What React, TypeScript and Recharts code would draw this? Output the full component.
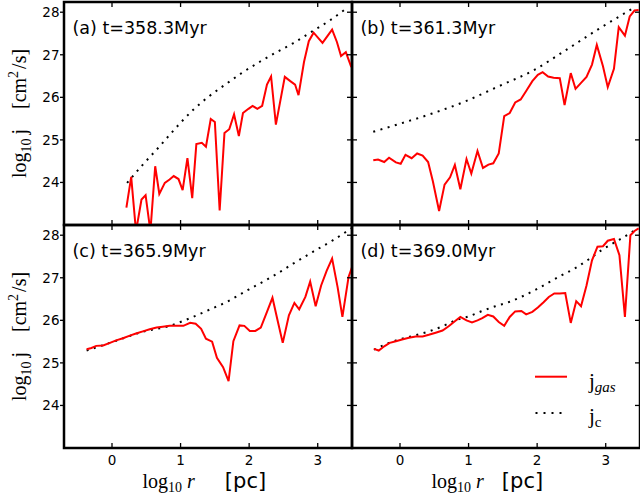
// @ts-nocheck
import { LineChart, Line, XAxis, YAxis, Legend } from 'recharts';

const xTicks = [0, 1, 2, 3];
const yTicks = [24, 25, 26, 27, 28];
const xDomain = [-0.7, 3.5];
const yDomain = [23, 28.24];

// (a) t=358.3Myr
const rGasA = [0.21, 0.28, 0.35, 0.43, 0.49, 0.56, 0.63, 0.69, 0.77, 0.84, 0.9, 0.97, 1.03, 1.1, 1.17, 1.23, 1.31, 1.37, 1.44, 1.5, 1.57, 1.64, 1.71, 1.78, 1.85, 1.91, 1.99, 2.05, 2.12, 2.19, 2.26, 2.32, 2.39, 2.52, 2.6, 2.67, 2.72, 2.8, 2.87, 2.94, 3.07, 3.21, 3.28, 3.34, 3.41, 3.49];
const jGasA = [23.41, 24.13, 22.85, 23.6, 23.7, 22.85, 24.38, 23.73, 23.99, 24.07, 24.15, 24.08, 23.82, 24.57, 23.63, 24.9, 24.93, 24.84, 25.49, 25.42, 23.34, 25.16, 25.25, 25.6, 25.09, 25.63, 25.73, 25.8, 25.73, 25.8, 26.3, 26.49, 25.36, 26.48, 26.38, 26.3, 26.05, 26.83, 27.32, 27.52, 27.28, 27.59, 27.3, 26.97, 27.06, 26.71];
const rJcA = [0.22, 0.45, 0.69, 0.93, 1.18, 1.42, 1.67, 1.91, 2.15, 2.4, 2.64, 2.94, 3.17, 3.41];
const jcA = [23.99, 24.42, 24.84, 25.28, 25.7, 26.03, 26.32, 26.59, 26.83, 27.06, 27.27, 27.57, 27.8, 28.08];

// (b) t=361.3Myr
const rGasB = [-0.39, -0.32, -0.23, -0.16, -0.06, 0.01, 0.08, 0.17, 0.25, 0.33, 0.41, 0.48, 0.57, 0.65, 0.73, 0.8, 0.88, 0.97, 1.04, 1.13, 1.21, 1.29, 1.36, 1.44, 1.52, 1.6, 1.68, 1.76, 1.84, 1.93, 2.01, 2.08, 2.16, 2.24, 2.33, 2.4, 2.49, 2.56, 2.64, 2.72, 2.8, 2.87, 2.96, 3.03, 3.12, 3.19, 3.28, 3.35, 3.42, 3.48];
const jGasB = [24.52, 24.54, 24.48, 24.58, 24.47, 24.44, 24.65, 24.57, 24.68, 24.63, 24.48, 24.02, 23.33, 23.95, 24.12, 24.41, 23.84, 24.55, 24.21, 24.74, 24.34, 24.42, 24.45, 24.68, 25.56, 25.63, 25.88, 25.95, 26.15, 26.38, 26.53, 26.59, 26.49, 26.46, 26.45, 25.82, 26.57, 26.2, 26.34, 26.48, 26.77, 27.23, 26.73, 26.24, 26.67, 27.65, 27.45, 27.9, 28.04, 28.05];
const rJcB = [-0.39, -0.02, 0.47, 0.96, 1.44, 1.93, 2.41, 2.9, 3.43];
const jcB = [25.19, 25.37, 25.62, 25.91, 26.26, 26.62, 27.1, 27.61, 28.12];

// (c) t=365.9Myr
const rGasC = [-0.37, -0.3, -0.23, -0.13, -0.03, 0.06, 0.16, 0.26, 0.35, 0.45, 0.55, 0.65, 0.74, 0.84, 0.94, 1.04, 1.14, 1.22, 1.3, 1.37, 1.46, 1.53, 1.62, 1.7, 1.77, 1.86, 1.93, 2.01, 2.09, 2.17, 2.26, 2.34, 2.42, 2.49, 2.58, 2.66, 2.73, 2.82, 2.89, 2.97, 3.05, 3.13, 3.21, 3.29, 3.36, 3.45, 3.51];
const jGasC = [25.32, 25.35, 25.4, 25.41, 25.47, 25.53, 25.58, 25.64, 25.69, 25.74, 25.79, 25.83, 25.85, 25.87, 25.87, 25.87, 25.94, 25.92, 25.8, 25.57, 25.5, 25.12, 24.9, 24.57, 25.51, 25.88, 25.87, 25.75, 25.75, 25.83, 26.2, 26.53, 25.96, 25.47, 26.12, 26.41, 26.26, 26.55, 26.91, 26.33, 26.82, 27.16, 27.45, 26.78, 26.08, 27.02, 27.29];
const rJcC = [-0.37, -0.03, 0.45, 0.84, 1.18, 1.42, 1.67, 2.0, 2.35, 2.64, 2.93, 3.22, 3.49];
const jcC = [25.29, 25.47, 25.73, 25.87, 26.08, 26.25, 26.43, 26.73, 27.04, 27.33, 27.61, 27.88, 28.16];

// (d) t=369.0Myr
const rGasD = [-0.38, -0.31, -0.23, -0.15, -0.06, 0.03, 0.13, 0.23, 0.33, 0.42, 0.52, 0.62, 0.71, 0.8, 0.88, 0.97, 1.05, 1.13, 1.2, 1.28, 1.36, 1.44, 1.52, 1.6, 1.68, 1.77, 1.84, 1.93, 2.01, 2.09, 2.17, 2.25, 2.33, 2.41, 2.49, 2.57, 2.64, 2.72, 2.8, 2.88, 2.96, 3.03, 3.12, 3.2, 3.28, 3.36, 3.42, 3.48];
const jGasD = [25.33, 25.29, 25.39, 25.47, 25.51, 25.55, 25.59, 25.62, 25.62, 25.66, 25.71, 25.76, 25.86, 25.98, 26.08, 26.0, 25.95, 26.0, 26.05, 26.13, 26.09, 25.96, 25.87, 26.08, 26.21, 26.22, 26.14, 26.2, 26.3, 26.42, 26.55, 26.63, 26.63, 26.64, 25.94, 26.45, 26.33, 26.82, 27.41, 27.73, 27.74, 27.87, 27.91, 27.53, 26.08, 28.0, 28.1, 28.16];
const rJcD = [-0.38, -0.16, 0.03, 0.23, 0.42, 0.62, 0.81, 1.0, 1.2, 1.39, 1.59, 1.78, 1.98, 2.17, 2.36, 2.56, 2.75, 2.95, 3.14, 3.33, 3.43];
const jcD = [25.31, 25.47, 25.57, 25.65, 25.74, 25.86, 26.0, 26.09, 26.22, 26.33, 26.43, 26.56, 26.72, 26.89, 27.06, 27.23, 27.43, 27.66, 27.84, 28.02, 28.12];

const zip = (xs, ys) => xs.map((x, i) => ({ x, y: ys[i] }));

const M = 3;
const PW = 288;
const PH = 223;
const SANS = '"DejaVu Sans", sans-serif';
const SERIF = '"Liberation Serif", "DejaVu Serif", serif';
const tickW = 1.3;

// bottom axis: inward tick at the bottom and its mirror at the top of the frame
const bottomTick = (showLabel) => ({ x, y, payload }) => (
  <g>
    <line x1={x} x2={x} y1={y} y2={y - 5} stroke="#000" strokeWidth={tickW} />
    <line x1={x} x2={x} y1={y - PH} y2={y - PH + 5} stroke="#000" strokeWidth={tickW} />
    {showLabel && (
      <text x={x} y={y + 16.5} textAnchor="middle" fontSize={13.5} fontFamily={SANS} fill="#000">
        {payload.value}
      </text>
    )}
  </g>
);
// left axis: outward tick with label on the outer panels, inward otherwise; mirror on the right
const leftTick = (showLabel) => ({ x, y, payload }) => (
  <g>
    {showLabel ? (
      <line x1={x - 4} x2={x} y1={y} y2={y} stroke="#000" strokeWidth={tickW} />
    ) : (
      <line x1={x} x2={x + 5} y1={y} y2={y} stroke="#000" strokeWidth={tickW} />
    )}
    <line x1={x + PW} x2={x + PW - 5} y1={y} y2={y} stroke="#000" strokeWidth={tickW} />
    {showLabel && (
      <text x={x - 4.5} y={y + 4.8} textAnchor="end" fontSize={13.5} fontFamily={SANS} fill="#000">
        {payload.value}
      </text>
    )}
  </g>
);

function LegendBox() {
  return (
    <svg width={120} height={80} style={{ display: 'block' }}>
      <line x1={0} x2={32} y1={21.7} y2={21.7} stroke="#ff0000" strokeWidth={2} />
      <line x1={0.5} x2={28} y1={58} y2={58} stroke="#000" strokeWidth={2} strokeDasharray="2 6" />
      <text x={54} y={33} fontFamily={SERIF} fontSize={21} fill="#000">
        j<tspan fontSize={15} fontStyle="italic" dy={4}>gas</tspan>
      </text>
      <text x={54} y={68} fontFamily={SERIF} fontSize={21} fill="#000">
        j<tspan fontSize={15} dy={4}>c</tspan>
      </text>
    </svg>
  );
}

function Panel({ left, top, yw, xh, title, gas, jc, showX, showY, legend, xLabelX, xGap }) {
  return (
    <div style={{ position: 'absolute', left: left - yw - M, top: top - M }}>
      <LineChart
        width={M + yw + PW + M}
        height={M + PH + xh + M}
        margin={{ top: M, right: M, bottom: M, left: M }}
      >
        <XAxis
          xAxisId="b"
          type="number"
          dataKey="x"
          domain={xDomain}
          ticks={xTicks}
          interval={0}
          allowDataOverflow
          height={xh}
          tickSize={0}
          tickMargin={0}
          tickLine={false}
          axisLine={false}
          tick={bottomTick(showX)}
        />
        <YAxis
          yAxisId="l"
          type="number"
          domain={yDomain}
          ticks={yTicks}
          interval={0}
          allowDataOverflow
          width={yw}
          tickSize={0}
          tickMargin={0}
          tickLine={false}
          axisLine={false}
          tick={leftTick(showY)}
        />
        <Line
          data={zip(jc[0], jc[1])}
          xAxisId="b"
          yAxisId="l"
          dataKey="y"
          type="monotone"
          stroke="#000"
          strokeWidth={2}
          strokeDasharray="2 5.5"
          dot={false}
          isAnimationActive={false}
        />
        <Line
          data={zip(gas[0], gas[1])}
          xAxisId="b"
          yAxisId="l"
          dataKey="y"
          type="linear"
          stroke="#ff0000"
          strokeWidth={2}
          dot={false}
          isAnimationActive={false}
        />
        <rect x={M + yw} y={M} width={PW} height={PH} fill="none" stroke="#000" strokeWidth={2.5} />
        <text x={M + yw + 8.5} y={M + 32} fontFamily={SANS} fontSize={17.5} fill="#000">
          {title}
        </text>
        {showY && (
          <text
            transform={`rotate(-90 ${M + 26} ${M + PH / 2})`}
            x={M + 26}
            y={M + PH / 2}
            textAnchor="middle"
            fontFamily={SERIF}
            fontSize={20}
            fill="#000"
          >
            log<tspan fontSize={14} dy={5}>10</tspan>
            <tspan dy={-5} dx={4}>j</tspan>
            <tspan dx={20}>[cm</tspan>
            <tspan fontSize={14} dy={-8}>2</tspan>
            <tspan dy={8} dx={2}>/s]</tspan>
          </text>
        )}
        {showX && (
          <text x={xLabelX} y={M + PH + 40} fontFamily={SERIF} fontSize={20} fill="#000">
            log<tspan fontSize={14} dy={4}>10</tspan>
            <tspan dy={-4} dx={5} fontStyle="italic">r</tspan>
            <tspan dx={xGap} fontFamily={SANS} fontSize={21}>[pc]</tspan>
          </text>
        )}
        {legend && (
          <Legend
            layout="vertical"
            align="center"
            verticalAlign="middle"
            content={() => <LegendBox />}
            wrapperStyle={{ left: 187, top: 133, width: 120, height: 80 }}
          />
        )}
      </LineChart>
    </div>
  );
}

export default function App() {
  return (
    <div style={{ position: 'absolute', left: 0, top: 0, width: 640, height: 499, background: '#fff', overflow: 'hidden' }}>
      <Panel left={64} top={2} yw={64} xh={1} title="(a) t=358.3Myr" gas={[rGasA, jGasA]} jc={[rJcA, jcA]} showY />
      <Panel left={352} top={2} yw={1} xh={1} title="(b) t=361.3Myr" gas={[rGasB, jGasB]} jc={[rJcB, jcB]} />
      <Panel left={64} top={225} yw={64} xh={51} title="(c) t=365.9Myr" gas={[rGasC, jGasC]} jc={[rJcC, jcC]} showY showX xLabelX={145.5} xGap={30} />
      <Panel left={352} top={225} yw={1} xh={51} title="(d) t=369.0Myr" gas={[rGasD, jGasD]} jc={[rJcD, jcD]} showX legend xLabelX={83.5} xGap={18} />
    </div>
  );
}
